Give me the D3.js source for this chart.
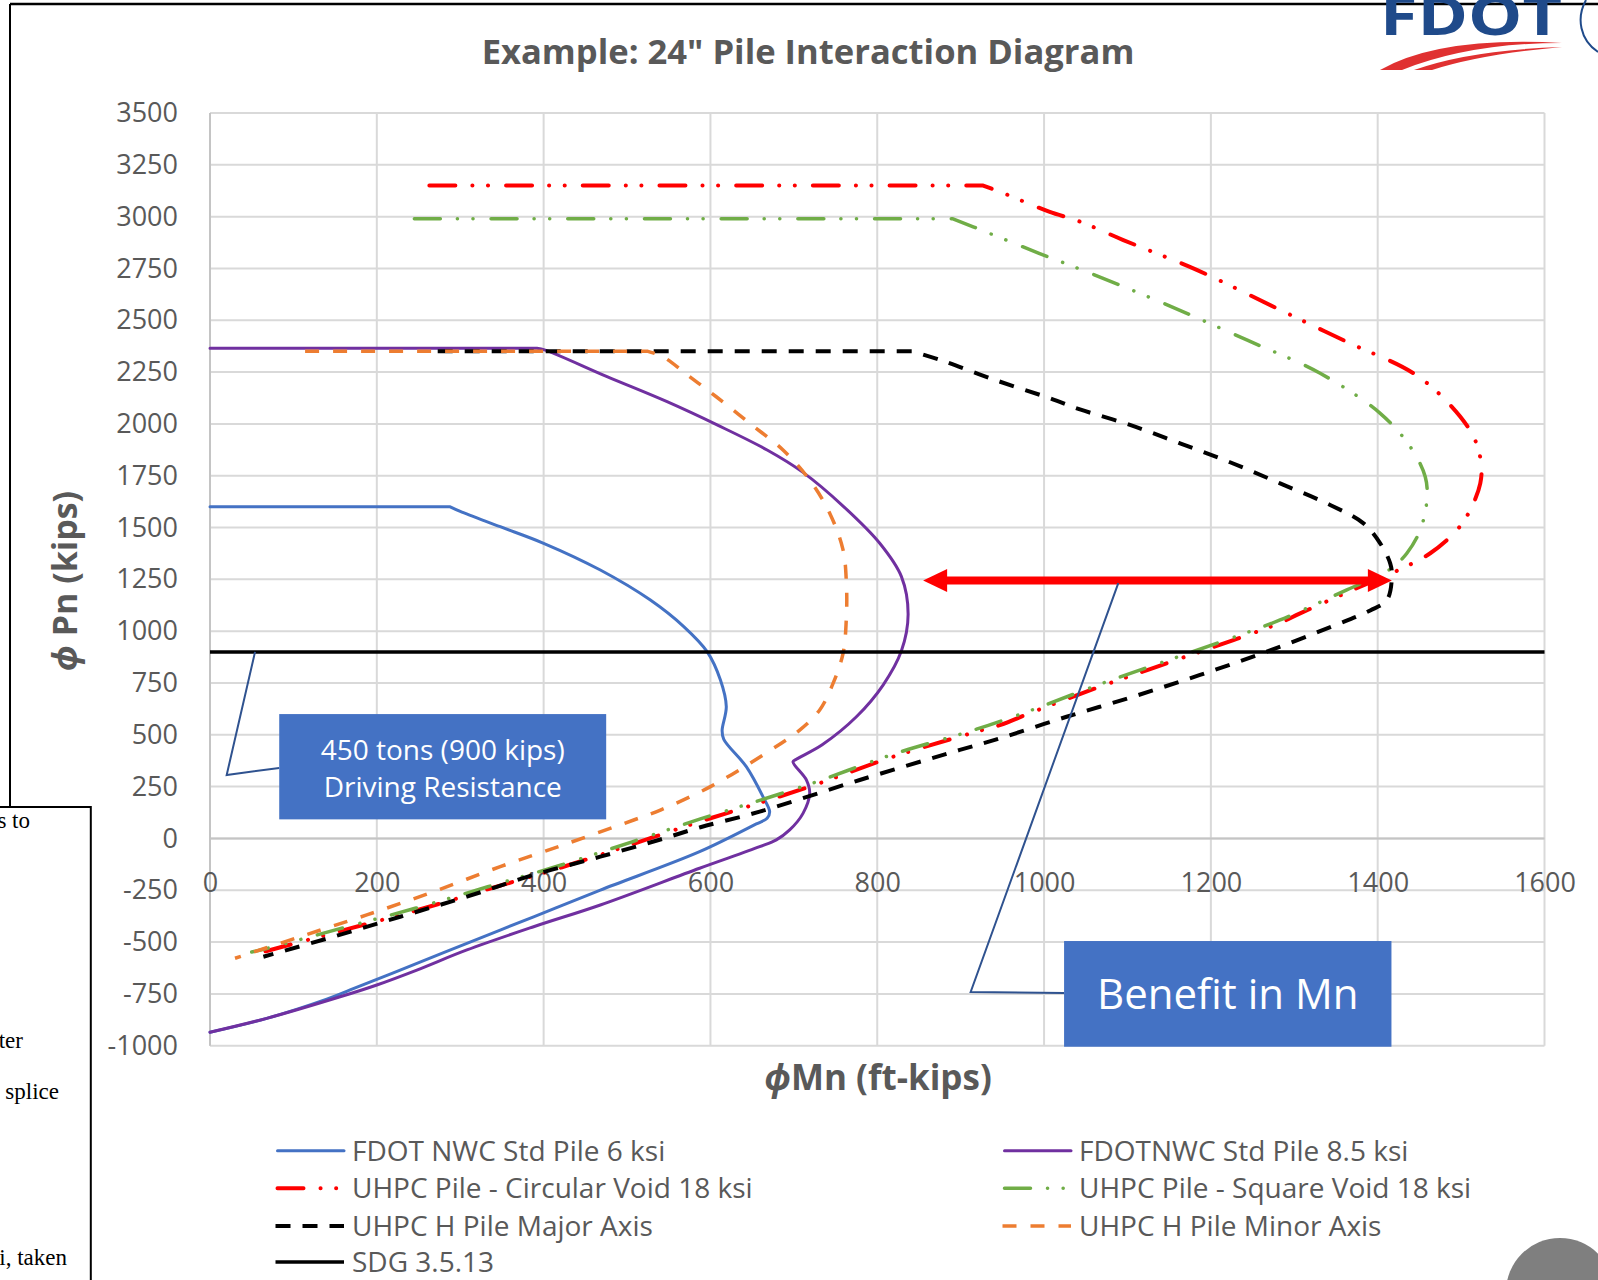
<!DOCTYPE html>
<html>
<head>
<meta charset="utf-8">
<script src="https://cdnjs.cloudflare.com/ajax/libs/d3/7.8.5/d3.min.js"></script>
<style>
  body { margin: 0; background: #fff; }
  svg { display: block; }
  text { font-family: "Open Sans", "Noto Sans", sans-serif; }
</style>
</head>
<body>
<script>
// 24" pile interaction diagram, phiMn (ft-kips) vs phiPn (kips)

// Axis ticks
var xTicks = [0, 200, 400, 600, 800, 1000, 1200, 1400, 1600];
var yTicks = [-1000, -750, -500, -250, 0, 250, 500, 750, 1000, 1250, 1500, 1750, 2000, 2250, 2500, 2750, 3000, 3250, 3500];

// Series, [Mn, Pn] pairs
var nwc6 = [[0,1600],[288,1600],[300,1578],[348,1504],[400,1424],[468,1295],[528,1150],[568,1022],[596,901],
  [612,764],[619,636],[614,520],[616,478],[643,346],[663,201],[671,129],[668,97],[655,70],[587,-64],
  [468,-249],[388,-378],[308,-506],[228,-635],[168,-731],[140,-775],[68,-868],[0,-935]];

var nwc85 = [[0,2365],[392,2365],[402,2356],[476,2228],[548,2107],[608,1995],[668,1874],[711,1766],[760,1600],
  [803,1424],[829,1263],[837,1080],[829,905],[807,740],[775,587],[734,452],[703,382],[699,370],[715,282],
  [719,218],[711,121],[695,41],[679,-7],[659,-40],[587,-144],[468,-321],[388,-426],[308,-538],[248,-635],
  [200,-707],[156,-764],[68,-868],[0,-935]];

var circVoid = [[263,3150],[927,3150],[952,3112],[1006,3024],[1043,2976],[1095,2887],[1183,2743],[1283,2550],
  [1363,2396],[1443,2244],[1487,2091],[1515,1938],[1524,1810],[1523,1713],[1511,1585],[1495,1488],[1463,1376],
  [1425,1295],[1365,1190],[1307,1086],[1283,1040],[1227,957],[1147,845],[1067,732],[987,611],[947,547],
  [919,515],[819,394],[719,250],[619,121],[588,82],[507,-27],[422,-139],[334,-244],[246,-349],[158,-445],
  [68,-543],[52,-560]];

var sqVoid = [[245,2990],[890,2990],[915,2951],[994,2823],[1051,2734],[1143,2582],[1243,2405],[1331,2244],
  [1403,2051],[1439,1890],[1457,1745],[1459,1633],[1451,1488],[1435,1376],[1419,1311],[1403,1271],[1363,1199],
  [1283,1054],[1227,970],[1147,857],[1067,744],[987,622],[919,527],[819,406],[719,262],[619,133],[588,94],
  [507,-15],[422,-127],[334,-232],[246,-337],[158,-433],[68,-531],[50,-548]];

var hMajor = [[273,2350],[842,2350],[878,2305],[939,2215],[1006,2125],[1043,2070],[1103,1995],[1163,1906],
  [1223,1815],[1283,1713],[1343,1609],[1383,1520],[1403,1424],[1415,1327],[1417,1263],[1411,1150],[1391,1100],
  [1347,1026],[1267,901],[1187,789],[1107,684],[1027,587],[947,483],[899,427],[779,282],[659,129],[588,54],
  [540,-5],[468,-88],[388,-176],[308,-281],[228,-378],[148,-474],[64,-571]];

var hMinor = [[114,2350],[525,2350],[543,2324],[575,2228],[607,2131],[647,2003],[687,1874],[719,1729],[743,1569],
  [759,1392],[763,1231],[763,1070],[759,893],[747,748],[731,620],[707,523],[664,405],[600,250],[540,137],
  [508,89],[428,-25],[348,-136],[268,-257],[188,-369],[108,-474],[30,-578]];

var sdg = [[0,900],[1600,900]];

var seriesNames = ["FDOT NWC Std Pile 6 ksi", "FDOTNWC Std Pile 8.5 ksi", "UHPC Pile - Circular Void 18 ksi",
  "UHPC Pile - Square Void 18 ksi", "UHPC H Pile Major Axis", "UHPC H Pile Minor Axis", "SDG 3.5.13"];
var seriesData = [nwc6, nwc85, circVoid, sqVoid, hMajor, hMinor, sdg];

// Benefit arrow (Pn level, Mn from / to)
var arrowP = 1245;
var arrowM = [855, 1417];

// Line styles per series
var styles = [
  {color: "#4472C4", width: 3, dash: null, cap: "round"},
  {color: "#7030A0", width: 3, dash: null, cap: "round"},
  {color: "#FF0000", width: 4, dash: "26 17 0.1 15.5 0.1 18", cap: "round"},
  {color: "#70AD47", width: 3.5, dash: "26 17 0.1 15.5 0.1 18", cap: "round"},
  {color: "#000000", width: 4, dash: "15 12", cap: "butt"},
  {color: "#ED7D31", width: 3.5, dash: "14 14", cap: "butt"},
  {color: "#000000", width: 3.5, dash: null, cap: "butt"}
];

var W = 1598, H = 1280;
var svg = d3.select("body").append("svg").attr("width", W).attr("height", H);

// Plot area
var x = d3.scaleLinear().domain([0, 1600]).range([210, 1544.5]);
var y = d3.scaleLinear().domain([-1000, 3500]).range([1045.7, 113]);

// Background page bits
svg.append("line").attr("x1", 10).attr("x2", W).attr("y1", 4).attr("y2", 4)
  .attr("stroke", "#000").attr("stroke-width", 2.5);
svg.append("line").attr("x1", 10).attr("x2", 10).attr("y1", 4).attr("y2", 807)
  .attr("stroke", "#000").attr("stroke-width", 2);

// Title
svg.append("text")
  .attr("x", 808).attr("y", 64)
  .attr("text-anchor", "middle")
  .attr("font-size", 34.6).attr("font-weight", "bold")
  .attr("fill", "#595959")
  .text("Example: 24\" Pile Interaction Diagram");

// Gridlines
svg.append("g").selectAll("line").data(yTicks).enter().append("line")
  .attr("x1", x(0)).attr("x2", x(1600))
  .attr("y1", function(d) { return y(d); }).attr("y2", function(d) { return y(d); })
  .attr("stroke", "#d9d9d9").attr("stroke-width", 2);
svg.append("g").selectAll("line").data(xTicks).enter().append("line")
  .attr("x1", function(d) { return x(d); }).attr("x2", function(d) { return x(d); })
  .attr("y1", y(3500)).attr("y2", y(-1000))
  .attr("stroke", "#d9d9d9").attr("stroke-width", 2);

// Axis lines
svg.append("line").attr("x1", x(0)).attr("x2", x(0)).attr("y1", y(3500)).attr("y2", y(-1000))
  .attr("stroke", "#c4c4c4").attr("stroke-width", 2);
svg.append("line").attr("x1", x(0)).attr("x2", x(1600)).attr("y1", y(0)).attr("y2", y(0))
  .attr("stroke", "#c4c4c4").attr("stroke-width", 2);

// Y axis labels
var yAxis = d3.axisLeft(y).tickValues(yTicks).tickSize(0).tickPadding(32)
  .tickFormat(function(d) { return String(d); });
var gy = svg.append("g").attr("transform", "translate(" + x(0) + ",0)").call(yAxis);
gy.select(".domain").remove();
gy.selectAll("text").attr("font-size", 27).attr("fill", "#595959")
  .style("font-family", "'Open Sans', sans-serif");

// X axis labels (axis crosses at Pn = 0)
var xAxis = d3.axisBottom(x).tickValues(xTicks).tickSize(0).tickPadding(34)
  .tickFormat(function(d) { return String(d); });
var gx = svg.append("g").attr("transform", "translate(0," + y(0) + ")").call(xAxis);
gx.select(".domain").remove();
gx.selectAll("text").attr("font-size", 27).attr("fill", "#595959")
  .style("font-family", "'Open Sans', sans-serif");

// Axis titles
var yTitle = svg.append("text")
  .attr("transform", "translate(77,581) rotate(-90)")
  .attr("text-anchor", "middle")
  .attr("font-size", 34).attr("font-weight", "bold").attr("fill", "#595959");
yTitle.append("tspan").attr("font-style", "italic").text("\u03D5");
yTitle.append("tspan").text(" Pn (kips)");

var xTitle = svg.append("text")
  .attr("x", 878).attr("y", 1090)
  .attr("text-anchor", "middle")
  .attr("font-size", 35).attr("font-weight", "bold").attr("fill", "#595959");
xTitle.append("tspan").attr("font-style", "italic").text("\u03D5");
xTitle.append("tspan").text("Mn (ft-kips)");

// Series lines: straight first (flat) segment, smooth curve through the rest
var curve = d3.line()
  .x(function(d) { return x(d[0]); })
  .y(function(d) { return y(d[1]); })
  .curve(d3.curveCatmullRom.alpha(0.5));
var straight = d3.line()
  .x(function(d) { return x(d[0]); })
  .y(function(d) { return y(d[1]); });

function seriesPath(s) {
  if (s.length < 3) return straight(s);
  var head = "M" + x(s[0][0]) + "," + y(s[0][1]);
  return head + curve(s.slice(1)).replace(/^M/, "L");
}

seriesData.forEach(function(s, i) {
  var st = styles[i];
  svg.append("path")
    .attr("d", seriesPath(s))
    .attr("fill", "none")
    .attr("stroke", st.color)
    .attr("stroke-width", st.width)
    .attr("stroke-linecap", st.cap)
    .attr("stroke-linejoin", "round")
    .attr("stroke-dasharray", st.dash);
});

// Benefit arrow
var ax1 = x(arrowM[0]), ax2 = x(arrowM[1]), ay = y(arrowP);
var headL = 24, headH = 11.5;
svg.append("line")
  .attr("x1", ax1 + headL - 2).attr("x2", ax2 - headL + 2)
  .attr("y1", ay).attr("y2", ay)
  .attr("stroke", "#FF0000").attr("stroke-width", 8);
svg.append("polygon")
  .attr("points", [[ax1, ay], [ax1 + headL, ay - headH], [ax1 + headL, ay + headH]].join(" "))
  .attr("fill", "#FF0000");
svg.append("polygon")
  .attr("points", [[ax2, ay], [ax2 - headL, ay - headH], [ax2 - headL, ay + headH]].join(" "))
  .attr("fill", "#FF0000");

// Callout: driving resistance
var box1 = {m0: 83, m1: 475, p0: 92, p1: 600};
var lead1 = [[83, 340], [20, 306], [54, 900]];
svg.append("path")
  .attr("d", straight(lead1))
  .attr("fill", "none").attr("stroke", "#2F528F").attr("stroke-width", 2);
svg.append("rect")
  .attr("x", x(box1.m0)).attr("y", y(box1.p1))
  .attr("width", x(box1.m1) - x(box1.m0)).attr("height", y(box1.p0) - y(box1.p1))
  .attr("fill", "#4472C4");
var c1x = (x(box1.m0) + x(box1.m1)) / 2;
svg.append("text").attr("x", c1x).attr("y", 760).attr("text-anchor", "middle")
  .attr("font-size", 28).attr("fill", "#fff").text("450 tons (900 kips)");
svg.append("text").attr("x", c1x).attr("y", 797).attr("text-anchor", "middle")
  .attr("font-size", 28).attr("fill", "#fff").text("Driving Resistance");

// Callout: benefit in Mn
var box2 = {m0: 1024, m1: 1416.5, p0: -1005, p1: -495};
var lead2 = [[1024, -746], [912, -741], [1089, 1232]];
svg.append("path")
  .attr("d", straight(lead2))
  .attr("fill", "none").attr("stroke", "#2F528F").attr("stroke-width", 2);
svg.append("rect")
  .attr("x", x(box2.m0)).attr("y", y(box2.p1))
  .attr("width", x(box2.m1) - x(box2.m0)).attr("height", y(box2.p0) - y(box2.p1))
  .attr("fill", "#4472C4");
svg.append("text").attr("x", (x(box2.m0) + x(box2.m1)) / 2).attr("y", 1009)
  .attr("text-anchor", "middle").attr("font-size", 42).attr("fill", "#fff").text("Benefit in Mn");

// Legend, two columns
var legendCols = [275.5, 1002.5];
var legendRows = [1150.7, 1188.3, 1226, 1262];
var legend = svg.append("g");
seriesNames.forEach(function(name, i) {
  var col = i % 2, row = Math.floor(i / 2);
  var lx = legendCols[col], ly = legendRows[row];
  var st = styles[i];
  legend.append("line")
    .attr("x1", lx + (st.cap === "round" ? 2 : 0)).attr("x2", lx + 68.5)
    .attr("y1", ly).attr("y2", ly)
    .attr("stroke", st.color).attr("stroke-width", st.width)
    .attr("stroke-linecap", st.cap)
    .attr("stroke-dasharray", st.dash);
  legend.append("text")
    .attr("x", lx + 76.5).attr("y", ly + 10)
    .attr("font-size", 28).attr("fill", "#595959")
    .text(name);
});

// FDOT logo (cropped at top, as in the slide)
var logo = svg.append("g");
logo.append("text").attr("x", 1380).attr("y", 35)
  .attr("font-size", 54).attr("font-weight", "bold").attr("fill", "#1F4A8A")
  .attr("textLength", 182).attr("lengthAdjust", "spacingAndGlyphs")
  .text("FDOT");
logo.append("path")
  .attr("d", "M1380,70 Q1440,36 1562,43 Q1470,43 1402,70 Z")
  .attr("fill", "#E03131");
logo.append("path")
  .attr("d", "M1414,70 Q1470,50 1562,47 Q1482,54 1432,70 Z")
  .attr("fill", "#E03131");
logo.append("path")
  .attr("d", "M1586,0 C1576,18 1580,40 1598,52")
  .attr("fill", "none").attr("stroke", "#1F4A8A").attr("stroke-width", 2);

// Overlapping page fragment, bottom left
svg.append("rect").attr("x", -2).attr("y", 807).attr("width", 92.8).attr("height", 480)
  .attr("fill", "#fff").attr("stroke", "#000").attr("stroke-width", 2);
var frag = [["s to", 30, 828], ["ter", 23, 1048], ["splice", 59, 1099], ["i, taken", 67, 1265]];
svg.append("g").selectAll("text").data(frag).enter().append("text")
  .attr("x", function(d) { return d[1]; }).attr("y", function(d) { return d[2]; })
  .attr("text-anchor", "end")
  .style("font-family", "'Liberation Serif', serif")
  .attr("font-size", 23).attr("fill", "#000")
  .text(function(d) { return d[0]; });

// Gray circle, bottom right
svg.append("circle").attr("cx", 1560).attr("cy", 1292).attr("r", 54).attr("fill", "#7f7f7f");
</script>
</body>
</html>
